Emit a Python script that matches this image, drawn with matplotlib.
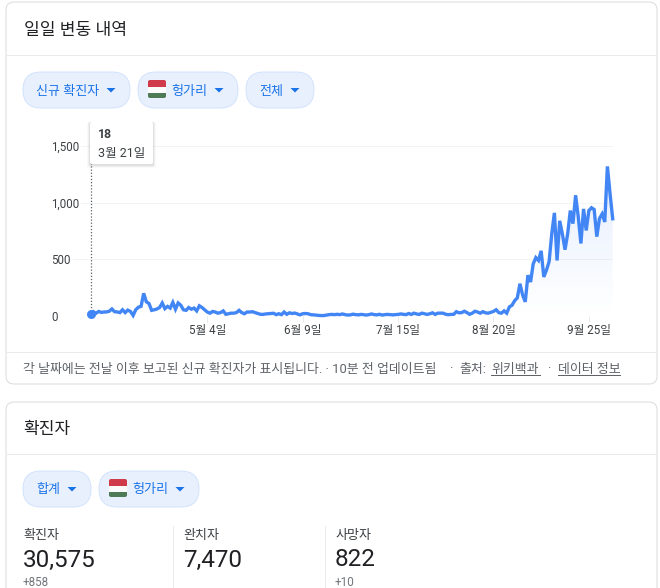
import numpy as np
import matplotlib
matplotlib.use('Agg')
import matplotlib.pyplot as plt
from matplotlib.patches import FancyBboxPatch, Rectangle, Polygon

plt.rcParams['font.family'] = ['Roboto', 'Noto Sans CJK KR', 'DejaVu Sans']

# daily new cases, one value per day from 3/21
daily_cases = [
    18, 38, 24, 40, 32, 35, 36, 42, 62, 38,
    36, 30, 55, 30, 52, 40, 5, 55, 78, 85,
    200, 125, 110, 50, 55, 62, 75, 115, 65, 85,
    70, 120, 60, 115, 95, 55, 50, 75, 60, 70,
    45, 90, 75, 55, 35, 25, 40, 35, 25, 30,
    45, 15, 20, 25, 25, 30, 50, 30, 20, 35,
    35, 38, 30, 22, 15, 14, 18, 20, 22, 24,
    12, 20, 12, 35, 15, 28, 22, 26, 18, 10,
    20, 22, 20, 12, 10, 8, 5, 4, 4, 8,
    12, 14, 12, 15, 12, 18, 12, 8, 10, 16,
    12, 10, 14, 12, 8, 12, 18, 12, 10, 15,
    8, 12, 14, 12, 10, 12, 14, 18, 15, 12,
    22, 14, 25, 18, 14, 25, 20, 14, 20, 28,
    14, 25, 25, 25, 15, 12, 14, 15, 38, 28,
    30, 42, 30, 15, 25, 42, 35, 25, 38, 28,
    25, 32, 40, 55, 30, 25, 45, 25, 80, 95,
    135, 160, 285, 185, 125, 360, 300, 460, 515, 490,
    575, 345, 405, 480, 725, 910, 490, 840, 725, 585,
    725, 930, 815, 1065, 875, 640, 945, 755, 930, 955,
    940, 700, 860, 900, 830, 1320, 1080, 858,
]
y_ticks = [0, 500, 1000, 1500]
y_labels = ['0', '500', '1,000', '1,500']
x_tick_days = [44, 80, 116, 152, 188]
x_labels = ['5월 4일', '6월 9일', '7월 15일', '8월 20일', '9월 25일']

tooltip_value = '18'
tooltip_date = '3월 21일'
stat_titles = ['확진자', '완치자', '사망자']
stat_values = ['30,575', '7,470', '822']
stat_changes = ['+858', '', '+10']

W, H = 660, 588
BLUE = '#4285f4'
CHIP_TEXT = '#1a73e8'
BORDER = '#dadce0'
DIVIDER = '#e8eaed'
PX = 0.72  # one pixel as a line width


def card(ax, x0, y0, x1, y1):
    ax.add_patch(FancyBboxPatch((x0 + 8, y0 + 8), x1 - x0 - 16, y1 - y0 - 16,
                                boxstyle='round,pad=8,rounding_size=8',
                                fc='white', ec=BORDER, lw=PX))


def chip(ax, x0, x1, y0, label, text_x, arrow_x, flag=False):
    h = 36
    ax.add_patch(FancyBboxPatch((x0 + 18, y0 + 18), x1 - x0 - 36, 0,
                                boxstyle='round,pad=18,rounding_size=18',
                                fc='#e8f0fe', ec='#d2e3fc', lw=PX))
    ax.text(text_x, y0 + h / 2 + 1, label, color=CHIP_TEXT, fontsize=9.4,
            ha='left', va='center')
    ax.add_patch(Polygon([(arrow_x - 4.5, y0 + 16), (arrow_x + 4.5, y0 + 16), (arrow_x, y0 + 20.5)],
                         closed=True, fc=CHIP_TEXT, ec='none'))
    if flag:
        fx = x0 + 10
        clip = FancyBboxPatch((fx + 2, y0 + 10), 14, 14,
                              boxstyle='round,pad=2,rounding_size=2',
                              fc='none', ec='none')
        ax.add_patch(clip)
        for y, hh, col in [(y0 + 8, 6.5, '#cf3b4b'), (y0 + 14.5, 6, '#fbfbfb'), (y0 + 20.5, 6.5, '#4f7a56')]:
            stripe = Rectangle((fx, y), 18, hh, fc=col, ec='none')
            ax.add_patch(stripe)
            stripe.set_clip_path(clip)


fig = plt.figure(figsize=(W / 100, H / 100), dpi=100, facecolor='white')

# page in pixel coordinates
bg = fig.add_axes([0, 0, 1, 1], zorder=0)
bg.set_xlim(0, W)
bg.set_ylim(H, 0)
bg.axis('off')

card(bg, 6, 2, 657, 384)
card(bg, 6, 402, 657, 640)
bg.plot([6.5, 656.5], [55, 55], color=DIVIDER, lw=PX)
bg.plot([6.5, 656.5], [352, 352], color=DIVIDER, lw=PX)
bg.plot([6.5, 656.5], [454, 454], color=DIVIDER, lw=PX)

bg.text(24, 30, '일일 변동 내역', fontsize=12.3, color='#202124', va='center')
bg.text(23, 429, '확진자', fontsize=12.3, color='#202124', va='center')

chip(bg, 23, 130, 72, '신규 확진자', 36, 111)
chip(bg, 138, 238, 72, '헝가리', 171, 219, flag=True)
chip(bg, 246, 314, 72, '전체', 259, 295)
chip(bg, 23, 91, 471, '합계', 36, 72)
chip(bg, 99, 199, 471, '헝가리', 132, 180, flag=True)

foot = '#5f6368'
bg.text(23, 369, '각 날짜에는 전날 이후 보고된 신규 확진자가 표시됩니다. · 10분 전 업데이트됨',
        fontsize=9.3, color=foot, va='center')
bg.text(449, 369, '·', fontsize=9.3, color=foot, va='center')
bg.text(459, 369, '출처:', fontsize=9.3, color=foot, va='center')
bg.text(491, 369, '위키백과', fontsize=9.3, color=foot, va='center')
bg.plot([491, 540], [374.5, 374.5], color=foot, lw=PX)
bg.text(547, 369, '·', fontsize=9.3, color=foot, va='center')
bg.text(558, 369, '데이터 정보', fontsize=9.3, color=foot, va='center')
bg.plot([558, 620], [374.5, 374.5], color=foot, lw=PX)

for x, title, value, change in zip([23, 183, 335], stat_titles, stat_values, stat_changes):
    bg.text(x, 535, title, fontsize=9.4, color='#3c4043', va='center')
    bg.text(x, 560, value, fontsize=17.5, color='#202124', va='center')
    if change:
        bg.text(x, 586.5, change, fontsize=8.4, color='#70757a', va='baseline')
for x in [173, 325]:
    bg.plot([x, x], [526, 588], color=DIVIDER, lw=PX)

# chart, its box is placed so that the data scale lands on the page
ax_l, ax_r, ax_top, ax_bottom = 51, 612.7, 146, 316
ax = fig.add_axes([ax_l / W, 1 - ax_bottom / H, (ax_r - ax_l) / W, (ax_bottom - ax_top) / H],
                  zorder=1)
ax.patch.set_alpha(0)
days = np.arange(len(daily_cases))
px_per_day = 2.65
for s in ax.spines.values():
    s.set_visible(False)

ax.set_axisbelow(True)
ax.yaxis.grid(True, color='#f1f3f4', lw=PX)
ax.set_yticks(y_ticks, y_labels)
ax.set_xticks(x_tick_days, x_labels)
ax.tick_params(axis='y', left=False, length=0, pad=0, labelsize=8.3, labelcolor='#3c4043')
ax.tick_params(axis='x', length=4, width=PX, color='#e8eaed', pad=1.5, labelsize=8.4, labelcolor='#3c4043')
for lab in ax.get_yticklabels():
    lab.set_ha('left')
    lab.set_va('center_baseline')
    lab.set_bbox(dict(fc='white', ec='none', pad=1.5))

# soft fill under the line, fading downwards
grad = np.linspace(0.14, 0, 256).reshape(-1, 1)
rgba = np.zeros((256, 1, 4))
rgba[..., :3] = matplotlib.colors.to_rgb(BLUE)
rgba[..., 3] = grad
im = ax.imshow(rgba, extent=[days[0], days[-1], 0, max(daily_cases)], aspect='auto', zorder=1)
area = ax.fill_between(days, daily_cases, 0, color='none')
im.set_clip_path(area.get_paths()[0], transform=ax.transData)
ax.set_xlim(-(90.7 - ax_l) / px_per_day, days[-1])
ax.set_ylim(0, 1500)

ax.plot(days, daily_cases, color=BLUE, lw=2.4, solid_joinstyle='miter', clip_on=False, zorder=3)
ax.plot([0, 0], [daily_cases[0], 1500], color='#5f6368', lw=0.9, ls=(0, (1, 1.5)), clip_on=False, zorder=2)
ax.plot(days[0], daily_cases[0], 'o', color=BLUE, ms=6.5, mec='none', clip_on=False, zorder=4)

# tooltip on top of everything
top = fig.add_axes([0, 0, 1, 1], zorder=2)
top.set_xlim(0, W)
top.set_ylim(H, 0)
top.axis('off')
for off, a in [(3, 0.025), (2, 0.04), (1, 0.06)]:
    top.add_patch(FancyBboxPatch((92 - off, 124), 59 + 2 * off, 39 + off,
                                 boxstyle='round,pad=2,rounding_size=2',
                                 fc='black', ec='none', alpha=a))
top.add_patch(FancyBboxPatch((92, 124), 59, 38, boxstyle='round,pad=2,rounding_size=2',
                             fc='white', ec='none'))
top.text(98, 134, tooltip_value, fontsize=8.8, fontweight='bold', color='#3c4043', va='center')
top.text(98, 153.5, tooltip_date, fontsize=9, color='#3c4043', va='center')

fig.savefig('out.png', dpi=100)
